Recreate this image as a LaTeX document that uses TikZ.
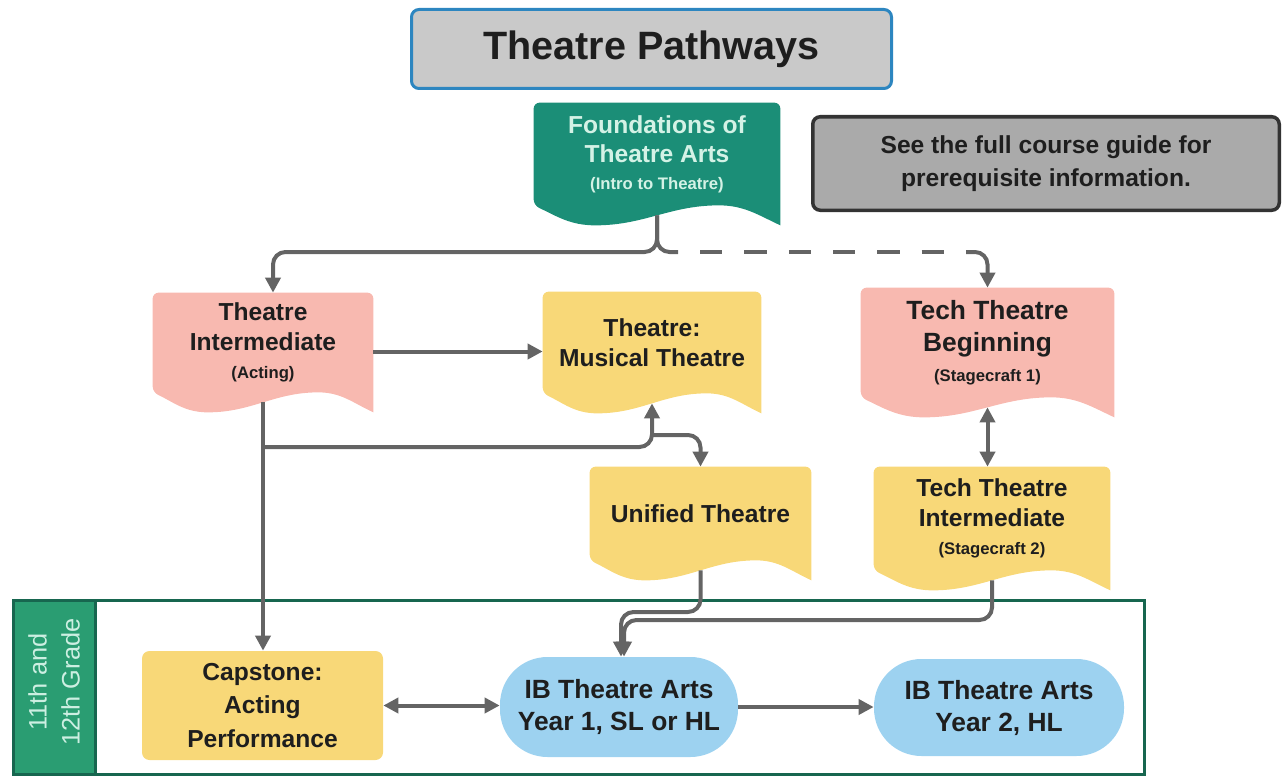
\documentclass[tikz,border=0pt]{standalone}
\usepackage{fontspec}
\setmainfont{Liberation Sans}
\usetikzlibrary{arrows.meta, backgrounds, calc, positioning}

\definecolor{tealbox}{HTML}{1B8E77}
\definecolor{tealtext}{HTML}{D4F2E6}
\definecolor{salmonbox}{HTML}{F8B9B0}
\definecolor{yellowbox}{HTML}{F8D878}
\definecolor{bluebox}{HTML}{9DD2F0}
\definecolor{linegray}{HTML}{646464}
\definecolor{titlegray}{HTML}{C9C9C9}
\definecolor{titleblue}{HTML}{2D86C0}
\definecolor{notegray}{HTML}{AAAAAA}
\definecolor{notedark}{HTML}{333333}
\definecolor{gradegreen}{HTML}{17664F}
\definecolor{bandgreen}{HTML}{2A9D72}
\definecolor{bandtext}{HTML}{CDEFE2}
\definecolor{inktext}{HTML}{1E1E1E}

% document shape: flat top, wavy bottom
\newcommand{\wavebox}[2]{%
  \fill[#2] ([yshift=-0.4cm]#1.south east) [rounded corners=0.12cm] -- (#1.north east) -- (#1.north west) -- (#1.south west) [sharp corners]
    to[out=-25, in=180] ($(#1.south west)!0.25!(#1.south east)+(0,-0.4)$)
    to[out=0, in=180] ($(#1.south west)!0.75!(#1.south east)$)
    to[out=0, in=155] ([yshift=-0.4cm]#1.south east) -- cycle;}

\begin{document}
\begin{tikzpicture}
\useasboundingbox (0,0) rectangle (25.66,-15.56);

% frame for the last two years
\node[draw=gradegreen, line width=0.06cm, minimum width=22.6cm, minimum height=3.48cm] (frame) at (11.59,-13.75) {};
\node[fill=bandgreen, draw=gradegreen, line width=0.06cm, minimum width=1.64cm, minimum height=3.48cm] (band) at (1.08,-13.75) {};
\node[rotate=90, align=center, text=bandtext, font=\fontsize{14.4}{18.8}\selectfont] (grade) at (1.08,-13.64) {11th and\\12th Grade};

\begin{scope}[every node/.style={shape=rectangle, inner sep=0pt, align=center,
    text=inktext, font=\fontsize{14}{17}\selectfont\bfseries}]
    \node[minimum width=4.92cm, minimum height=2.04cm, text=tealtext] (found) at (13.14,-3.08) {Foundations of\\Theatre Arts\\[-2pt]{\fontsize{9.5}{12}\selectfont (Intro to Theatre)}};
    \node[minimum width=4.4cm, minimum height=1.98cm] (inter) at (5.26,-6.85) {Theatre\\Intermediate\\[-1pt]{\fontsize{9.5}{12}\selectfont (Acting)}};
    \node[minimum width=4.36cm, minimum height=2.02cm] (music) at (13.04,-6.85) {Theatre:\\Musical Theatre};
    \node[minimum width=5.06cm, minimum height=2.18cm, font=\fontsize{15}{18}\selectfont\bfseries] (techb) at (19.75,-6.85) {Tech Theatre\\Beginning\\[-1pt]{\fontsize{9.5}{12}\selectfont (Stagecraft 1)}};
    \node[minimum width=4.42cm, minimum height=1.86cm] (unified) at (14.01,-10.27) {Unified Theatre};
    \node[minimum width=4.72cm, minimum height=2.06cm] (techi) at (19.84,-10.37) {Tech Theatre\\Intermediate\\[-1pt]{\fontsize{9.5}{12}\selectfont (Stagecraft 2)}};
\end{scope}

\begin{scope}[every node/.style={shape=rectangle, inner sep=0pt, align=center,
    text=inktext, font=\fontsize{14}{18.8}\selectfont\bfseries}]
    \node[fill=titlegray, draw=titleblue, line width=0.06cm, rounded corners=0.15cm,
      minimum width=9.6cm, minimum height=1.58cm, font=\fontsize{22.5}{27}\selectfont\bfseries] (title) at (13.03,-0.98) {Theatre Pathways};
    \node[fill=notegray, draw=notedark, line width=0.07cm, rounded corners=0.15cm,
      minimum width=9.33cm, minimum height=1.87cm] (note) at (20.92,-3.27) {See the full course guide for\\prerequisite information.};
    \node[fill=yellowbox, rounded corners=0.15cm, minimum width=4.82cm, minimum height=2.18cm] (cap) at (5.25,-14.11) {Capstone:\\Acting\\Performance};
    \node[fill=bluebox, rounded corners=0.95cm, minimum width=4.76cm, minimum height=2.0cm, font=\fontsize{15}{18.2}\selectfont\bfseries] (ib1) at (12.38,-14.14) {IB Theatre Arts\\Year 1, SL or HL};
    \node[fill=bluebox, rounded corners=0.95cm, minimum width=5.0cm, minimum height=1.94cm, font=\fontsize{15}{18.2}\selectfont\bfseries] (ib2) at (19.98,-14.15) {IB Theatre Arts\\Year 2, HL};
\end{scope}

\begin{scope}[on background layer]
    \wavebox{found}{tealbox}
    \wavebox{inter}{salmonbox}
    \wavebox{music}{yellowbox}
    \wavebox{techb}{salmonbox}
    \wavebox{unified}{yellowbox}
    \wavebox{techi}{yellowbox}
\end{scope}

\begin{scope}[
    conn/.style={draw=linegray, line width=0.08cm, rounded corners=0.25cm,
      -{Triangle[length=0.3cm, width=0.3cm]}},
    twoway/.style={conn, {Triangle[length=0.3cm, width=0.3cm]}-{Triangle[length=0.3cm, width=0.3cm]}},
    plain/.style={draw=linegray, line width=0.08cm, rounded corners=0.25cm}
    ]
    \coordinate (split) at (13.14,-5.04);
    \coordinate (stub1) at (13.56,-5.04);
    \coordinate (stub2) at (19.32,-5.04);
    \coordinate (fork) at (5.26,-8.94);
    \coordinate (tee) at (13.04,-8.70);
    \coordinate (drop) at (12.42,-12.24);
    \coordinate (drop2) at (12.48,-12.40);

    \draw[conn] ([yshift=-0.2cm]found.south) -- (split) -| ([xshift=0.2cm]inter.north);
    \draw[plain] ([yshift=-0.2cm]found.south) -- (split) -- (stub1);
    \draw[plain, dash pattern=on 0.443cm off 0.443cm, dash phase=0.443cm] (stub1) -- (stub2);
    \draw[conn] (stub2) -| (techb.north);
    \draw[conn] ([yshift=-0.18cm]inter.east) -- ([yshift=-0.18cm]music.west);
    \draw[conn] ([yshift=-0.2cm]inter.south) -- (inter.south |- cap.north);
    \draw[conn] (fork) -| ([yshift=-0.2cm]music.south);
    \draw[conn] (tee) -| (unified.north);
    \draw[twoway] ([yshift=-0.2cm]techb.south) -- (techb.south |- techi.north);
    \draw[conn] ([yshift=-0.2cm]unified.south) |- (drop) -- (drop |- ib1.north);
    \draw[conn] ([yshift=-0.2cm]techi.south) |- (drop2) -- (drop2 |- ib1.north);
    \draw[twoway] (cap.east) -- (cap.east -| ib1.west);
    \draw[conn] (ib1.east) -- (ib1.east -| ib2.west);
\end{scope}
\end{tikzpicture}
\end{document}
